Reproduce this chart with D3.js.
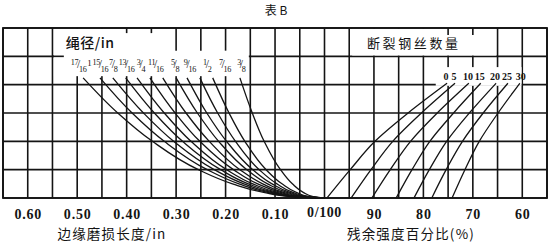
<!DOCTYPE html>
<html><head><meta charset="utf-8">
<script src="https://cdn.jsdelivr.net/npm/d3@7"></script>
<style>body{margin:0;background:#fff}svg{display:block}</style>
</head><body><svg id="c" width="550" height="246"></svg>
<script>
// ---- data ----
const diameters = ["17/16","1","15/16","7/8","13/16","3/4","11/16","5/8","9/16","1/2","7/16","3/8"];
// vertical level (grid rows above the bottom line) of the points read on each wear curve
const wearLevels = [4.24, 3, 2, 1, 0.5, 0.2, 0.05, 0];
// edge wear (in) read at those levels, one array per rope diameter
const wear_17_16 = [0.488, 0.418, 0.348, 0.255, 0.186, 0.123, 0.066, 0];
const wear_1     = [0.454, 0.389, 0.324, 0.237, 0.173, 0.115, 0.062, 0];
const wear_15_16 = [0.428, 0.366, 0.305, 0.223, 0.163, 0.108, 0.058, 0];
const wear_7_8   = [0.402, 0.344, 0.287, 0.210, 0.154, 0.102, 0.055, 0];
const wear_13_16 = [0.379, 0.324, 0.270, 0.198, 0.145, 0.096, 0.052, 0];
const wear_3_4   = [0.353, 0.302, 0.252, 0.184, 0.135, 0.089, 0.048, 0];
const wear_11_16 = [0.327, 0.280, 0.233, 0.171, 0.125, 0.083, 0.044, 0];
const wear_5_8   = [0.300, 0.257, 0.214, 0.157, 0.115, 0.076, 0.041, 0];
const wear_9_16  = [0.278, 0.238, 0.198, 0.145, 0.106, 0.070, 0.038, 0];
const wear_1_2   = [0.252, 0.216, 0.180, 0.132, 0.096, 0.064, 0.034, 0];
const wear_7_16  = [0.226, 0.193, 0.161, 0.118, 0.086, 0.057, 0.031, 0];
const wear_3_8   = [0.171, 0.146, 0.122, 0.089, 0.065, 0.043, 0.023, 0];
const wearSeries = [wear_17_16, wear_1, wear_15_16, wear_7_8, wear_13_16, wear_3_4,
                    wear_11_16, wear_5_8, wear_9_16, wear_1_2, wear_7_16, wear_3_8];

const wireCounts = ["0","5","10","15","20","25","30"];
const strengthLevels = [0, 1, 2, 3, 4.05];
// residual strength (%) read at those levels, one array per broken-wire count
const str_0  = [99.5, 94.8, 89.8, 83.1, 75.2];
const str_5  = [94.6, 90.6, 86.2, 80.4, 73.6];
const str_10 = [90.4, 86.7, 82.6, 77.2, 70.8];
const str_15 = [85.5, 82.3, 78.7, 73.9, 68.4];
const str_20 = [81.9, 78.8, 75.3, 70.7, 65.3];
const str_25 = [78.3, 75.4, 72.1, 67.9, 62.9];
const str_30 = [74.2, 71.6, 68.7, 64.9, 60.5];
const strengthSeries = [str_0, str_5, str_10, str_15, str_20, str_25, str_30];

const wearTicks = [0.60, 0.50, 0.40, 0.30, 0.20, 0.10];
const strengthTicks = [90, 80, 70, 60];

// ---- drawing ----
const svg = d3.select("#c");
const ink = "#141414";
const xL = d3.scaleLinear().domain([0.65, 0]).range([3, 324.5]);
const xR = d3.scaleLinear().domain([100, 55]).range([324.5, 547]);
const y  = d3.scaleLinear().domain([0, 6]).range([198, 28]);

const g = svg.append("g");
// grid
const vx = d3.range(0.65, -0.001, -0.05).map(w => xL(w)).concat(d3.range(95, 54, -5).map(s => xR(s)));
g.selectAll(".vl").data(vx).join("line")
  .attr("x1", d => d).attr("x2", d => d).attr("y1", y(6)).attr("y2", y(0))
  .attr("stroke", ink).attr("stroke-width", 1.6);
g.selectAll(".hl").data(d3.range(0, 7)).join("line")
  .attr("x1", xL(0.65)).attr("x2", xR(55)).attr("y1", d => y(d)).attr("y2", d => y(d))
  .attr("stroke", ink).attr("stroke-width", 1.6);

// label boxes that interrupt the grid
function mask(x0, x1, l0, l1) {
  g.append("rect").attr("x", Math.min(x0, x1)).attr("y", y(l1))
   .attr("width", Math.abs(x1 - x0)).attr("height", y(l0) - y(l1)).attr("fill", "#fff");
}
function seg(x0, y0, x1, y1) {
  g.append("line").attr("x1", x0).attr("y1", y0).attr("x2", x1).attr("y2", y1)
   .attr("stroke", ink).attr("stroke-width", 1.6);
}
mask(xL(0.547), xL(0.153), 4.3, 5.97);
seg(xL(0.55), y(5), xL(0.527), y(5));
[0.40, 0.35].forEach(w => seg(xL(w), y(6), xL(w), y(5.82)));
[0.30, 0.25, 0.20].forEach(w => seg(xL(w), y(6), xL(w), y(5.2)));
mask(xR(94.4), xR(65.3), 5.03, 5.97);
[75, 70].forEach(s => seg(xR(s), y(6), xR(s), y(5.75)));
mask(xR(77.5), xR(60.15), 3.96, 4.62);

// outer frame
g.append("rect").attr("x", xL(0.65)).attr("y", y(6)).attr("width", xR(55) - xL(0.65))
 .attr("height", y(0) - y(6)).attr("fill", "none").attr("stroke", ink).attr("stroke-width", 1.8);

// wear curves
const lineL = d3.line().x(d => xL(d[0])).y(d => y(d[1])).curve(d3.curveMonotoneY);
wearSeries.forEach(s => {
  g.append("path").attr("d", lineL(s.map((w, i) => [w, wearLevels[i]])))
   .attr("fill", "none").attr("stroke", ink).attr("stroke-width", 1.3);
});
// strength curves
const lineR = d3.line().x(d => xR(d[0])).y(d => y(d[1])).curve(d3.curveMonotoneY);
strengthSeries.forEach(s => {
  const pts = s.map((v, i) => [v, strengthLevels[i]]).reverse();
  g.append("path").attr("d", lineR(pts))
   .attr("fill", "none").attr("stroke", ink).attr("stroke-width", 1.3);
});

// diameter labels (stacked fractions), set along the label row
const serif = "'Liberation Serif','DejaVu Serif',serif";
const cjk = "'Noto Sans CJK SC','Noto Sans CJK JP',sans-serif";
const labelWear = [0.497, 0.475, 0.453, 0.427, 0.400, 0.371, 0.341, 0.302, 0.272, 0.237, 0.201, 0.168];
diameters.forEach((lab, i) => {
  const t = g.append("text").attr("x", xL(labelWear[i])).attr("y", 68).attr("text-anchor", "middle")
    .attr("font-family", serif).attr("fill", ink);
  if (lab.includes("/")) {
    const [n, d] = lab.split("/");
    t.append("tspan").attr("font-size", 8.2).attr("dy", -3.5).attr("letter-spacing", -0.3).text(n);
    t.append("tspan").attr("font-size", 11.5).attr("dy", 3.5).attr("dx", -1.2).text("/");
    t.append("tspan").attr("font-size", 8.2).attr("dy", 4).attr("dx", -1.2).attr("letter-spacing", -0.3).text(d);
  } else {
    t.append("tspan").attr("font-size", 9).attr("dy", -2).text(lab);
  }
});
// broken wire labels
wireCounts.forEach((lab, i) => {
  const s = strengthSeries[i];
  g.append("text").attr("x", xR(s[s.length - 1]) - 1 + (i === 6 ? 2 : 0)).attr("y", 79.5).attr("text-anchor", "middle")
   .attr("font-family", serif).attr("font-size", 10).attr("font-weight", "bold").attr("fill", ink).text(lab);
});

// box titles
g.append("text").attr("x", xL(0.523)).attr("y", 47.5).attr("font-family", cjk).attr("font-size", 14)
 .attr("font-weight", 500).attr("letter-spacing", 0.5).attr("fill", ink).text("绳径/in");
g.append("text").attr("x", xR(91.4)).attr("y", 48).attr("font-family", cjk).attr("font-size", 13)
 .attr("letter-spacing", 2.6).attr("fill", ink).text("断裂钢丝数量");

// bottom axes
const axL = d3.axisBottom(xL).tickValues(wearTicks).tickSize(0).tickFormat(d3.format(".2f"));
const axR = d3.axisBottom(xR).tickValues(strengthTicks).tickSize(0).tickFormat(d3.format("d"));
const aL = svg.append("g").attr("transform", `translate(0,${y(0) + 8})`).call(axL);
const aR = svg.append("g").attr("transform", `translate(0,${y(0) + 8})`).call(axR);
svg.append("text").attr("x", xR(100)).attr("y", y(0) + 19).attr("text-anchor", "middle")
  .attr("font-family", serif).attr("font-size", 14).attr("letter-spacing", 0.6).attr("font-weight", "bold")
  .attr("fill", ink).text("0/100");
[aL, aR].forEach(a => {
  a.select(".domain").remove();
  a.selectAll("text").attr("font-family", serif).attr("font-size", 14).attr("letter-spacing", 0.8)
   .attr("fill", ink).attr("font-weight", "bold");
});

// axis titles and chart title
svg.append("text").attr("x", 112).attr("y", 239).attr("text-anchor", "middle")
  .attr("font-family", cjk).attr("font-size", 13.5).attr("letter-spacing", 1.2).attr("fill", ink).text("边缘磨损长度/in");
svg.append("text").attr("x", 411).attr("y", 239).attr("text-anchor", "middle")
  .attr("font-family", cjk).attr("font-size", 13.5).attr("letter-spacing", 1.2).attr("fill", ink).text("残余强度百分比(%)");
svg.append("text").attr("x", 276).attr("y", 15).attr("text-anchor", "middle")
  .attr("font-family", cjk).attr("font-size", 12).attr("fill", ink).text("表 B");
</script></body></html>
